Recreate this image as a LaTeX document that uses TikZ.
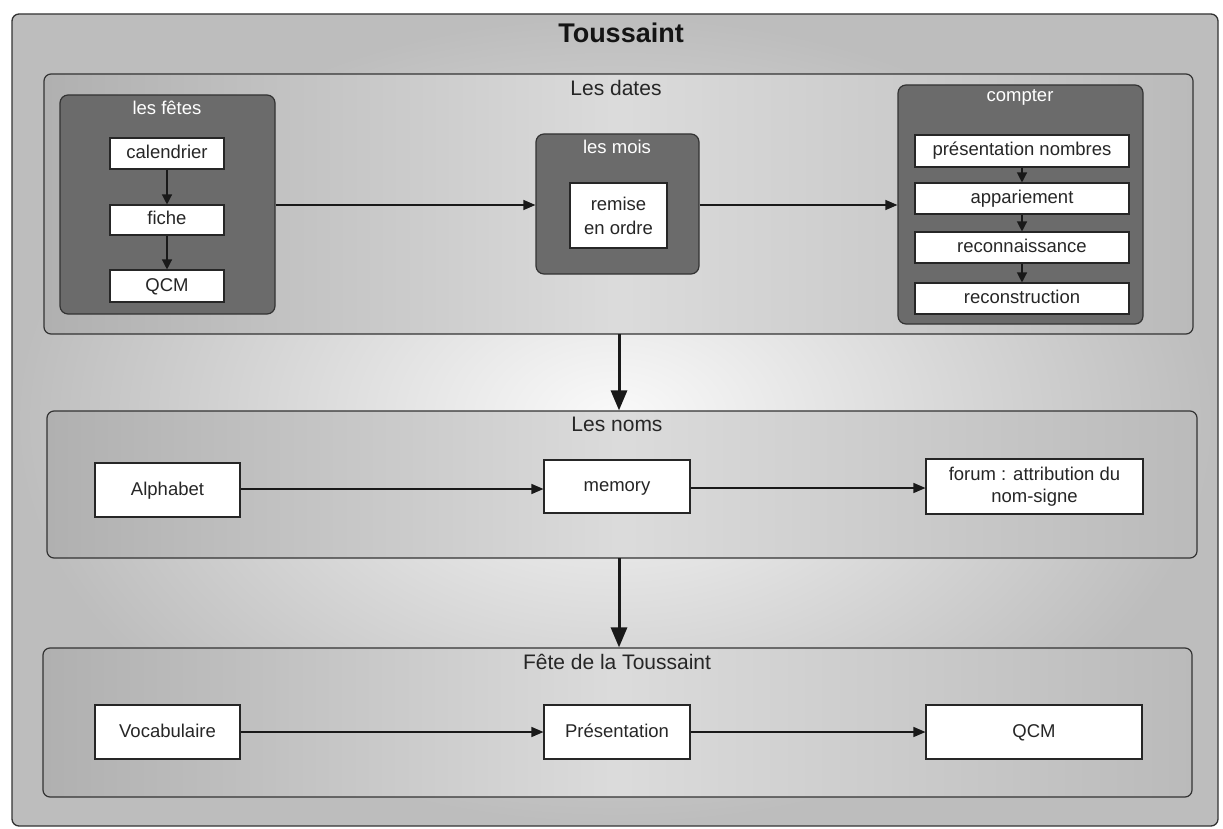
\documentclass[tikz,border=0pt]{standalone}
\usepackage{fontspec}
\setmainfont{Liberation Sans}
\usetikzlibrary{arrows.meta,calc}
\definecolor{darkbox}{HTML}{6B6B6B}
\definecolor{edge}{HTML}{333333}
\tikzset{
  x=1pt,y=-1pt,
  panel/.style={draw=edge,line width=1.2pt,rounded corners=7pt,
    left color=black!31,right color=black!27,middle color=black!14,
    minimum width=#1,inner sep=0pt},
  darkgrp/.style={draw=edge,line width=1.2pt,rounded corners=8pt,fill=darkbox,inner sep=0pt},
  wbox/.style={draw=black!85,line width=1.1pt,fill=white,inner sep=0pt,align=center,
    font=\fontsize{18.5}{21}\selectfont,text=black!85,text height=13.5pt,text depth=3.5pt},
  ptitle/.style={font=\fontsize{21}{24}\selectfont,text=black!85,inner sep=0pt},
  gtitle/.style={font=\fontsize{18.5}{21}\selectfont,text=white,inner sep=0pt},
  conn/.style={line width=1.3pt,draw=black!90,-{Triangle[length=12pt,width=10pt]}},
  sconn/.style={line width=1.3pt,draw=black!90,-{Triangle[length=10pt,width=10pt]}},
  bigconn/.style={line width=3pt,draw=black!90,-{Triangle[length=20pt,width=16pt]}},
}
\begin{document}
\begin{tikzpicture}
\useasboundingbox (0,0) rectangle (1223,829);
% outer frame
\node[draw=edge,line width=1.3pt,rounded corners=7pt,inner color=black!2,outer color=black!26,
  minimum width=1206pt,minimum height=812pt,inner sep=0pt] (outer) at (615,420) {};
\node[font=\bfseries\fontsize{27}{30}\selectfont,text=black!92,inner sep=0pt] (title) at (621,33) {Toussaint};

% panel 1
\node[panel=1149pt,minimum height=260pt] (p1) at (618.5,204) {};
\node[ptitle] (p1t) at (616,88) {Les dates};

\node[darkgrp,minimum width=215pt,minimum height=219pt] (fetes) at (167.5,204.5) {};
\node[gtitle] (fetest) at (167,108) {les fêtes};
\node[wbox,minimum width=114pt,minimum height=31pt] (cal) at (167,153.5) {calendrier};
\node[wbox,minimum width=114pt,minimum height=30pt] (fiche) at (167,220) {fiche};
\node[wbox,minimum width=114pt,minimum height=32pt] (qcm1) at (167,286) {QCM};
\draw[sconn] (cal.south) -- (fiche.north);
\draw[sconn] (fiche.south) -- (qcm1.north);

\node[darkgrp,minimum width=163pt,minimum height=140pt] (mois) at (617.5,204) {};
\node[gtitle] (moist) at (617,147) {les mois};
\node[wbox,minimum width=97pt,minimum height=65pt,font=\fontsize{18.5}{24}\selectfont,text height=,text depth=] (remise) at (618.5,215.5) {remise\\en ordre};

\node[darkgrp,minimum width=245pt,minimum height=239pt] (compter) at (1020.5,204.5) {};
\node[gtitle] (compt) at (1020,97) {compter};
\node[wbox,minimum width=214pt,minimum height=32pt] (pres) at (1022,151) {présentation nombres};
\node[wbox,minimum width=214pt,minimum height=31pt] (app) at (1022,198.5) {appariement};
\node[wbox,minimum width=214pt,minimum height=31pt] (reco) at (1022,247.5) {reconnaissance};
\node[wbox,minimum width=214pt,minimum height=31pt] (recon) at (1022,298.5) {reconstruction};
\draw[sconn] (pres.south) -- (app.north);
\draw[sconn] (app.south) -- (reco.north);
\draw[sconn] (reco.south) -- (recon.north);

\draw[conn] (fetes.east |- 0,205) -- (mois.west |- 0,205);
\draw[conn] (mois.east |- 0,205) -- (compter.west |- 0,205);

% panel 2
\node[panel=1150pt,minimum height=147pt] (p2) at (622,484.5) {};
\node[ptitle] (p2t) at (617,424) {Les noms};
\node[wbox,minimum width=145pt,minimum height=54pt] (alpha) at (167.5,490) {Alphabet};
\node[wbox,minimum width=146pt,minimum height=53pt] (memory) at (617,486.5) {memory};
\node[wbox,minimum width=217pt,minimum height=55pt,font=\fontsize{18.5}{22}\selectfont,text height=,text depth=] (forum) at (1034.5,486.5) {forum : attribution du\\nom-signe};
\draw[conn] (alpha.east |- 0,489) -- (memory.west |- 0,489);
\draw[conn] (memory.east |- 0,488) -- (forum.west |- 0,488);

% panel 3
\node[panel=1149pt,minimum height=149pt] (p3) at (617.5,722.5) {};
\node[ptitle] (p3t) at (617,662) {Fête de la Toussaint};
\node[wbox,minimum width=145pt,minimum height=54pt] (voca) at (167.5,732) {Vocabulaire};
\node[wbox,minimum width=146pt,minimum height=54pt] (presen) at (617,732) {Présentation};
\node[wbox,minimum width=216pt,minimum height=54pt] (qcm2) at (1034,732) {QCM};
\draw[conn] (voca) -- (presen);
\draw[conn] (presen) -- (qcm2);

% big arrows
\coordinate (a1) at (619,334);
\draw[bigconn] (a1) -- (a1 |- p2.north);
\coordinate (a2) at (619,558);
\draw[bigconn] (a2) -- (a2 |- p3.north);
\end{tikzpicture}
\end{document}
